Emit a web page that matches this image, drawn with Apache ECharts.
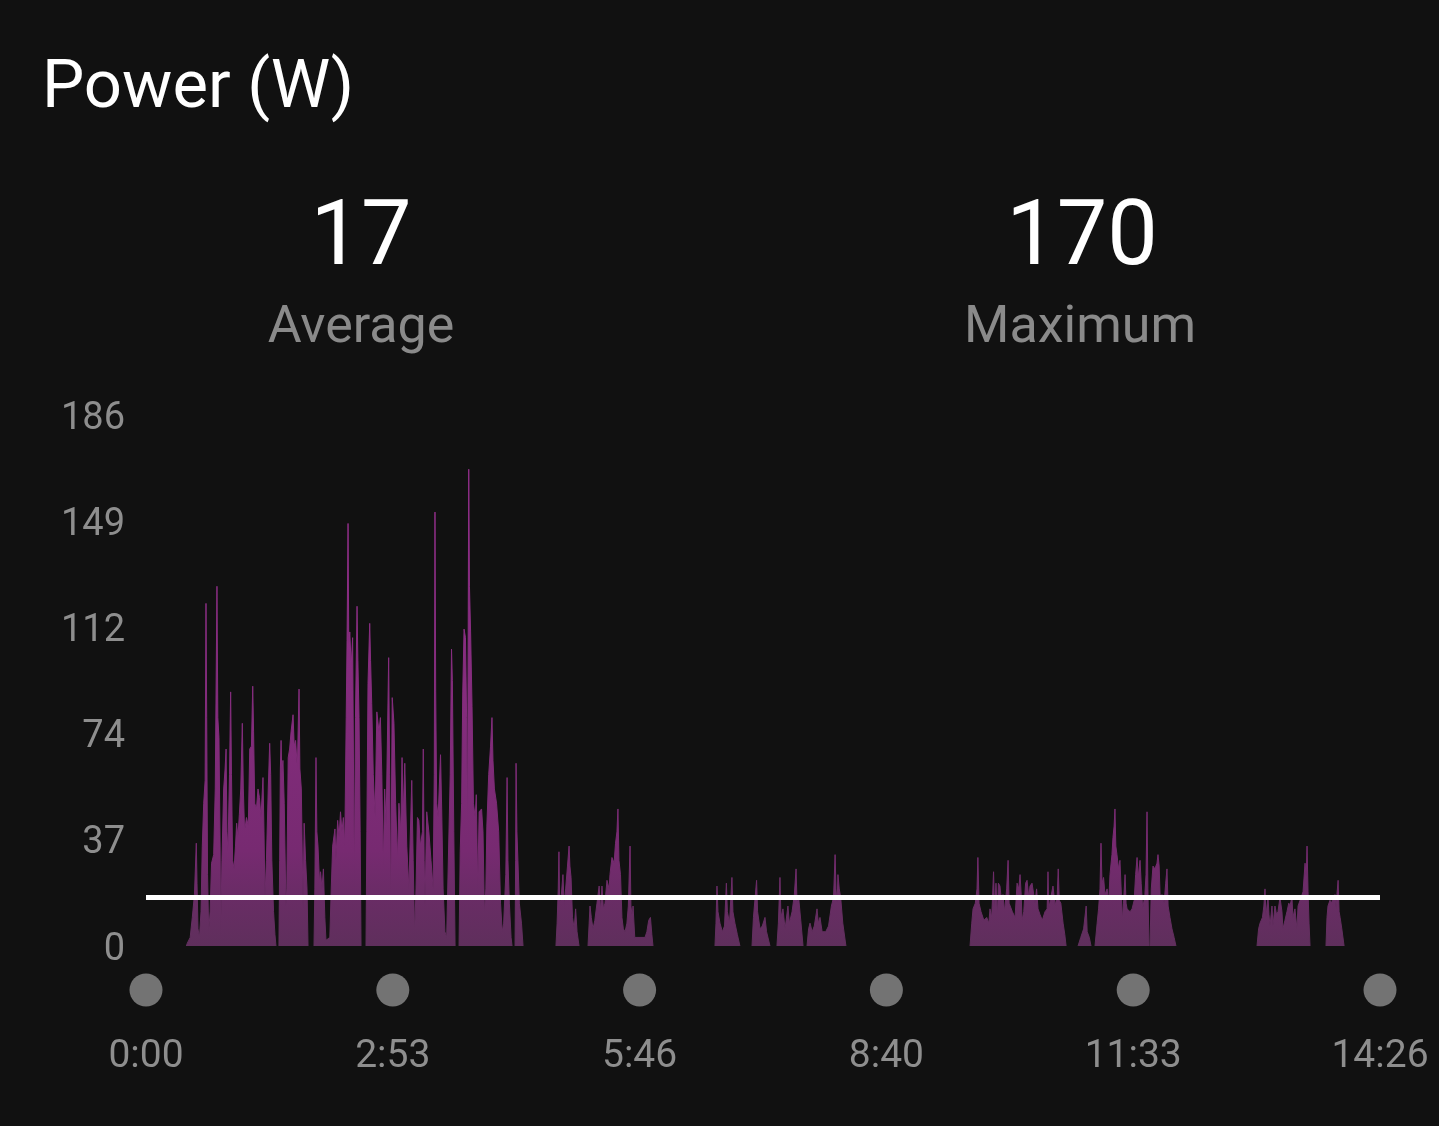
<!DOCTYPE html>
<html>
<head>
<meta charset="utf-8">
<script src="https://cdn.jsdelivr.net/npm/echarts@6/dist/echarts.min.js"></script>
<style>
html,body{margin:0;padding:0;background:#111111;}
#chart{width:1439px;height:1126px;}
</style>
</head>
<body>
<div id="chart"></div>
<script>
// ---- Data ----
const chartTitle = 'Power (W)';
const statValues = ['17', '170'];
const statLabels = ['Average', 'Maximum'];
const avgW = 17;
const yTicks = [0, 37.2, 74.4, 111.6, 148.8, 186];
const yTickLabels = ['0', '37', '74', '112', '149', '186'];
const xTicksSec = [0, 173.2, 346.4, 519.6, 692.8, 866];
const xTickLabels = ['0:00', '2:53', '5:46', '8:40', '11:33', '14:26'];

// power samples: [seconds, watts]
const segA1 = [[28.3,0],[29,1],[31,3],[32.5,10],[34,18],[35.3,36],[35.8,22],[36.5,6],[37.5,3],[38.6,12],[39.5,35],[40.5,50],[41.5,58],[42.1,120],[42.6,80],[43.2,25],[44,5],[45,12],[46,29],[47.5,32],[48.6,55],[49.8,126],[50.4,80],[51.2,73],[52,35],[52.4,3],[53.3,30],[54.5,55],[55.5,62],[56.2,69],[56.8,40],[57.5,33],[58.6,60],[59.4,89],[60,60],[60.8,30],[61.8,27],[62.8,35],[63.6,43],[64.5,38],[65.5,46],[66.5,55],[67.6,78],[68.3,55],[69.2,40],[70.5,45],[71.8,42],[72.8,69],[74,70],[74.9,91],[75.5,75],[76.3,50],[77.5,48],[78.6,55],[79.6,52],[80.7,45],[82.1,59],[82.8,40],[83.5,17],[84.5,30],[85.8,55],[86.8,71],[87.5,60],[88.3,30],[89.5,12],[90.5,4],[91.2,0]];
const segA2 = [[93.3,0],[93.8,30],[94.3,62],[94.8,72],[95.3,60],[96.1,65],[97,50],[98.2,14],[98.8,20],[99.8,66],[100.8,69],[101.8,75],[103.2,81],[104,70],[105,72],[106.2,62],[107.4,90],[108,62],[109,55],[110.2,13],[111,43],[112,30],[113,20],[113.7,0]];
const segA3 = [[117.9,0],[118.5,20],[119.3,66],[119.9,40],[120.7,35],[121.8,22],[122.5,26],[123.5,20],[124.5,27],[125.5,10],[126.3,2],[129,3],[130,20],[131,35],[132.6,41],[133.3,30],[134.5,44],[135.5,38],[136.5,47],[137.5,40],[138.5,45],[139.5,35],[140.5,80],[141.1,107],[141.8,148],[142.3,105],[143,110],[144,98],[145,108],[146.2,20],[147,80],[148.1,119],[148.7,100],[149.5,80],[150.3,40],[150.9,0]];
const segA4 = [[154.4,0],[155,40],[155.8,92],[157,113],[157.6,100],[158.4,85],[159.5,60],[160.8,45],[162,82],[163.5,75],[164.5,80],[165.5,60],[166.5,27],[167.5,55],[168.5,42],[170.3,101],[171,60],[171.7,10],[172.8,87],[174,78],[175.2,50],[176.5,30],[177.5,50],[178.8,40],[179.7,66],[180.5,45],[181.6,64],[183,35],[184.5,20],[186.5,58],[187.5,30],[188.5,4],[189.5,20],[190.5,45],[191.5,44],[192.5,35],[194,40],[194.6,69],[195.2,30],[195.8,14],[197,47],[198.5,40],[200,30],[201.5,20],[202.3,60],[202.8,152],[203.3,89],[204,50],[205,45],[206.7,67],[207.5,48],[208.5,20],[209.8,5],[211,3],[212,3],[213.5,60],[214.4,104],[215,93],[216,40],[216.9,0]];
const segA5 = [[219.7,0],[220.5,33],[221.5,50],[222.3,89],[223.2,111],[224.2,108],[225,80],[225.6,33],[226.5,167],[227,126],[227.8,110],[228.8,84],[229.8,50],[231,45],[231.8,53],[232.8,20],[233.8,47],[235.5,48],[236.5,40],[237.5,11],[238.5,20],[239.2,42],[240.5,60],[241.8,70],[242.8,80],[243.5,65],[244.5,55],[246,50],[247.5,40],[248.8,15],[250,5],[251,8],[252.5,25],[253.4,59],[254,30],[255,15],[256.2,3],[256.9,0]];
const segA6 = [[259,0],[259.4,30],[259.7,64],[260.3,40],[261,30],[262,15],[263.5,8],[264.6,0]];
const segB = [[287.7,0],[288.5,8],[289.3,20],[289.8,33],[290.3,15],[291.5,18],[292.6,25],[293.5,14],[294.5,20],[295.8,28],[296.9,35],[297.5,28],[298.3,24],[299.3,10],[300.5,6],[301.5,13],[302.5,5],[303.9,0]];
const segC = [[310.2,0],[311,8],[311.6,14],[312.5,10],[313.7,6],[315,9],[316.5,15],[318,21],[319,12],[320,21],[321,13],[322.1,15],[323.5,23],[325,20],[325.6,25],[327,31],[328.5,29],[329.5,36],[330.5,40],[331.2,48],[331.9,30],[333,25],[334,10],[335,6],[336.2,5],[337.5,8],[338.5,14],[339.7,35],[340.3,14],[341.3,10],[341.8,14],[343,3],[346.7,3],[350.2,3],[351.5,5],[352.8,9],[354,10],[355,4],[355.8,0]];
const segD = [[399.3,0],[400,8],[400.7,21],[401.4,12],[402.8,8],[404.5,5],[406,7],[407.3,22],[408,12],[409.5,8],[411.2,24],[411.9,12],[413.3,8],[415,4],[416.8,0]];
const segE = [[425.3,0],[426.3,10],[427.4,10],[428.5,23],[429.2,12],[430.9,6],[432.5,7],[434.4,10],[435.5,5],[437.9,0]];
const segF = [[442.8,0],[443.8,8],[444.9,24],[445.6,10],[447,13],[448.5,6],[450.5,14],[451.5,8],[453.4,12],[455,18],[456.2,27],[456.9,15],[458,17],[459.5,9],[461.1,0]];
const segG = [[463.9,0],[465,6],[466,8],[467.5,5],[469,7],[470.9,13],[471.8,8],[473,10],[474.5,5],[477,5],[479,7],[481,14],[482.5,17],[483.6,32],[484.2,20],[485,15],[485.6,25],[486.5,20],[487.5,17],[489,8],[491.2,0]];
const segH = [[578.3,0],[579.5,8],[580.4,13],[582,15],[583.2,20],[583.8,31],[584.6,15],[586,12],[588,9],[590,10],[591.5,8],[592.3,13],[593.5,10],[594.8,26],[595.5,12],[596.5,22],[597.5,10],[598.2,22],[599.3,21],[600.5,15],[601.4,18],[602.5,12],[604,20],[605,30],[605.7,15],[606.4,15],[608,12],[609.9,10],[611.3,22],[612.5,20],[613.4,25],[614.2,18],[614.8,9],[616,12],[617.3,22],[618.3,23],[619.5,17],[620.4,21],[621.8,22],[623,18],[623.9,15],[625,20],[626,13],[627.4,11],[629,9],[630.9,12],[632.4,13],[633,26],[633.6,13],[635,17],[636.5,21],[638,14],[639.5,18],[640.2,27],[640.9,16],[642,15],[643.6,8],[644.8,4],[645.7,0]];
const segI = [[654.1,0],[656,3],[658,6],[659.8,14],[660.5,5],[662,3],[663.2,0]];
const segJ = [[666,0],[667.5,8],[668.5,13],[669.5,20],[670.2,36],[670.9,22],[672,24],[673,18],[674.5,20],[675.6,15],[676.5,25],[677.9,32],[678.6,38],[679.4,42],[680,48],[680.6,35],[681.4,32],[682.5,27],[683.5,30],[684.5,18],[685.2,9],[686,15],[687.1,25],[687.8,15],[688.5,13],[690.6,12],[692,13],[693.5,16],[694.5,25],[695.5,31],[696.3,24],[697.6,30],[698.4,22],[699.5,13],[701,18],[701.8,25],[702.5,47],[703.1,20],[703.9,0]];
const segK = [[704.6,0],[705.5,20],[706.7,28],[708,27],[709.5,29],[710.2,32],[711,28],[711.8,16],[713,18],[714.5,15],[715.6,22],[716.5,27],[717.3,14],[718.6,10],[720,6],[721.5,3],[722.8,0]];
const segL = [[779.7,0],[780.8,6],[781.8,8],[783.5,10],[784.5,14],[785.3,20],[786,10],[786.7,14],[787.4,17],[788.1,11],[788.8,7],[790.2,14],[790.9,7],[792.3,14],[793.4,11],[794.4,12],[795.8,17],[797.2,12],[797.9,6],[799.3,9],[800.7,12],[802,15],[802.8,14],[804.2,17],[804.9,10],[806.3,13],[807.7,6],[808.5,14],[809.9,16],[811.3,18],[812,19],[813.4,29],[814.2,24],[814.8,35],[815.5,19],[816.2,8],[816.9,0]];
const segM = [[828.1,0],[828.8,10],[829.5,14],[830.9,16],[832,15],[833,17],[834.4,18],[835.2,13],[835.8,18],[836.6,23],[837.3,12],[838,10],[839.2,6],[840.8,0]];

const segments = [segA1, segA2, segA3, segA4, segA5, segA6, segB, segC, segD, segE, segF, segG, segH, segI, segJ, segK, segL, segM];

// ---- Chart ----
const chart = echarts.init(document.getElementById('chart'), null, {renderer: 'canvas'});
const FONT = 'Roboto, "Noto Sans", sans-serif';
const GRID_TOP = 415, GRID_BOTTOM_Y = 946;

function fillGradient() {
  return new echarts.graphic.LinearGradient(0, GRID_TOP, 0, GRID_BOTTOM_Y, [
    {offset: 0, color: '#952e8d'},
    {offset: 0.55, color: '#842c7d'},
    {offset: 0.82, color: '#772a71'},
    {offset: 0.9, color: '#6a2c66'},
    {offset: 1, color: '#5f2f5c'}
  ], true);
}

const seriesList = segments.map((seg, i) => ({
  type: 'line',
  data: seg,
  xAxisIndex: 0,
  yAxisIndex: 0,
  showSymbol: false,
  symbol: 'none',
  silent: true,
  z: 2,
  lineStyle: {width: 1, color: fillGradient()},
  areaStyle: {color: fillGradient(), opacity: 1},
  markLine: i === 0 ? {
    silent: true,
    symbol: ['none', 'none'],
    label: {show: false},
    z: 5,
    lineStyle: {color: '#ffffff', width: 5, type: 'solid', opacity: 1},
    data: [{yAxis: avgW}]
  } : undefined
}));

seriesList.push({
  type: 'scatter',
  xAxisIndex: 1,
  yAxisIndex: 1,
  data: xTicksSec.map(t => [t, 0.5]),
  symbol: 'circle',
  symbolSize: 33,
  itemStyle: {color: '#8c8c8c'},
  silent: true
});

function nearestLabel(v, ticks, labels) {
  let best = 0;
  for (let i = 0; i < ticks.length; i++) {
    if (Math.abs(ticks[i] - v) < Math.abs(ticks[best] - v)) best = i;
  }
  return labels[best];
}

const option = {
  backgroundColor: '#111111',
  animation: false,
  textStyle: {fontFamily: FONT},
  grid: [
    {left: 146, right: 59, top: GRID_TOP, bottom: 1126 - GRID_BOTTOM_Y, containLabel: false},
    {left: 146, right: 59, top: 974, height: 32, containLabel: false}
  ],
  xAxis: [
    {
      type: 'value', gridIndex: 0, min: 0, max: 866, interval: 173.2,
      axisLine: {show: false}, axisTick: {show: false}, splitLine: {show: false},
      axisLabel: {
        show: true, color: '#8e8e8e', fontSize: 39, fontFamily: FONT, margin: 92,
        formatter: v => nearestLabel(v, xTicksSec, xTickLabels)
      }
    },
    {
      type: 'value', gridIndex: 1, min: 0, max: 866, interval: 173.2,
      axisLine: {show: false}, axisTick: {show: false}, splitLine: {show: false}, axisLabel: {show: false}
    }
  ],
  yAxis: [
    {
      type: 'value', gridIndex: 0, min: 0, max: 186, interval: 37.2,
      axisLine: {show: false}, axisTick: {show: false}, splitLine: {show: false},
      axisLabel: {
        color: '#8e8e8e', fontSize: 38, fontFamily: FONT, margin: 21,
        verticalAlign: 'top', lineHeight: 8,
        formatter: v => nearestLabel(v, yTicks, yTickLabels)
      }
    },
    {
      type: 'value', gridIndex: 1, min: 0, max: 1,
      axisLine: {show: false}, axisTick: {show: false}, splitLine: {show: false}, axisLabel: {show: false}
    }
  ],
  graphic: [
    {type: 'text', left: 42, top: 57, style: {text: chartTitle, fill: '#ffffff', font: '67px ' + FONT}},
    {type: 'text', x: 361, y: 241, style: {text: statValues[0], fill: '#ffffff', font: '90px ' + FONT, textAlign: 'center', textVerticalAlign: 'middle'}},
    {type: 'text', x: 1082, y: 241, style: {text: statValues[1], fill: '#ffffff', font: '90px ' + FONT, textAlign: 'center', textVerticalAlign: 'middle'}},
    {type: 'text', x: 361, y: 329, style: {text: statLabels[0], fill: '#8a8a8a', font: '52px ' + FONT, textAlign: 'center', textVerticalAlign: 'middle'}},
    {type: 'text', x: 1080, y: 329, style: {text: statLabels[1], fill: '#8a8a8a', font: '52px ' + FONT, textAlign: 'center', textVerticalAlign: 'middle'}}
  ],
  series: seriesList
};
chart.setOption(option);
</script>
</body>
</html>
